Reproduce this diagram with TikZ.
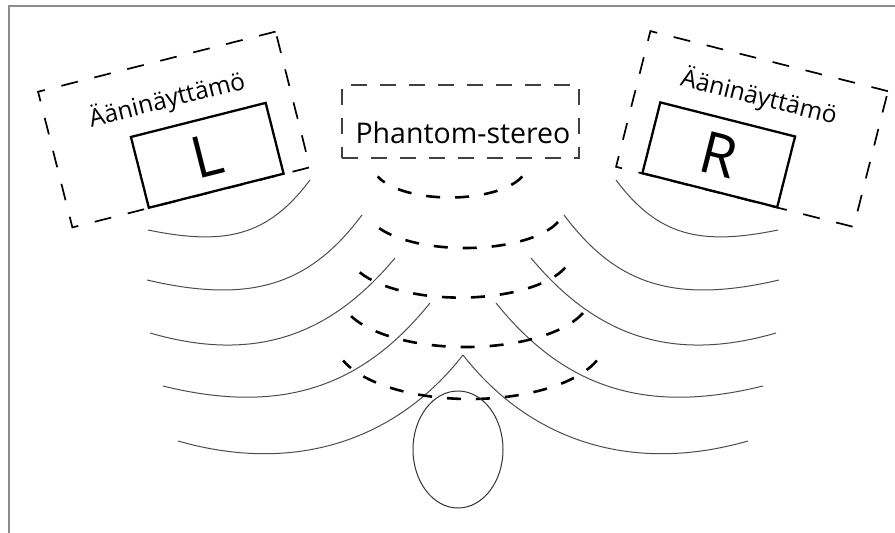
\documentclass[tikz,border=0pt]{standalone}
\usepackage{fontspec}
\setmainfont{Open Sans}
\usetikzlibrary{shapes.geometric,calc}

\tikzset{
  stagebox/.style={draw, line width=1.7pt, dash pattern=on 17pt off 17pt,
    minimum width=245pt, minimum height=140pt},
  speakerbox/.style={draw, line width=2.3pt, minimum width=139pt,
    minimum height=73pt, inner sep=0pt, font=\fontsize{58}{58}\selectfont},
  stagelabel/.style={font=\fontsize{24.5}{26}\selectfont},
  wave/.style={draw=black!70, line width=1pt},
  phantomwave/.style={line width=2.6pt, dash pattern=on 14pt off 15pt},
}

\begin{document}
\begin{tikzpicture}[x=1pt, y=-1pt]
    \useasboundingbox (0,0) rectangle (895,533);
    % frame
    \draw[black!45, line width=2pt] (9,533) -- (9,6) -- (895,6);

    % left speaker and its stage
    \node (lstage) [stagebox, rotate=14.2] at (174,129.5) {};
    \node (lspk) [speakerbox, rotate=14.2, anchor=south]
        at ($(lstage.south)!0.21!(lstage.south east)$) {L};
    \node (llabel) [stagelabel, rotate=14] at (167,100) {Ääninäyttämö};

    % right speaker and its stage
    \node (rstage) [stagebox, rotate=-14.2] at (752,129) {};
    \node (rspk) [speakerbox, rotate=-14.2, anchor=south]
        at ($(rstage.south)!0.21!(rstage.south west)$) {R};
    \node (rlabel) [stagelabel, rotate=-14] at (759,97) {Ääninäyttämö};

    % phantom image
    \node (phantom) [draw=black!75, line width=1.7pt, dash pattern=on 16pt off 13pt,
        minimum width=237pt, minimum height=73pt] at (460.5,121.5) {};
    \node (phantomtext) [font=\fontsize{28.5}{30}\selectfont] at (463,133) {Phantom-stereo};

    % waves from both speakers (right side mirrored)
    \foreach \s in {1,-1} {
        \begin{scope}[xshift=463pt, xscale=\s, xshift=-463pt]
            \draw[wave] (148,230) .. controls (226,246) and (268,236) .. (310,180);
            \draw[wave] (147,280) .. controls (254,305) and (311,283) .. (362,215);
            \draw[wave] (150,333) .. controls (260,365) and (334,331) .. (395,258);
            \draw[wave] (163,386) .. controls (284,416) and (364,385) .. (430,303);
            \draw[wave] (178,441) .. controls (293,474) and (395,442) .. (463,355);
        \end{scope}
    }

    % phantom wavefronts
    \foreach \cx/\cy/\rx/\ry in {450/165.5/77/32, 465/208.5/99/39.5, 460/252/112/45.6,
                                 465.5/295.3/125/51.7, 470/340.5/135/58.5} {
        \draw[phantomwave] (\cx,\cy) ++({cos(20)*\rx},{sin(20)*\ry})
            arc[start angle=20, end angle=160, x radius=\rx, y radius=\ry];
    }

    % listener
    \node (head) [ellipse, draw=black!80, line width=1pt, minimum width=90pt,
        minimum height=117pt] at (458,449.5) {};
\end{tikzpicture}
\end{document}
